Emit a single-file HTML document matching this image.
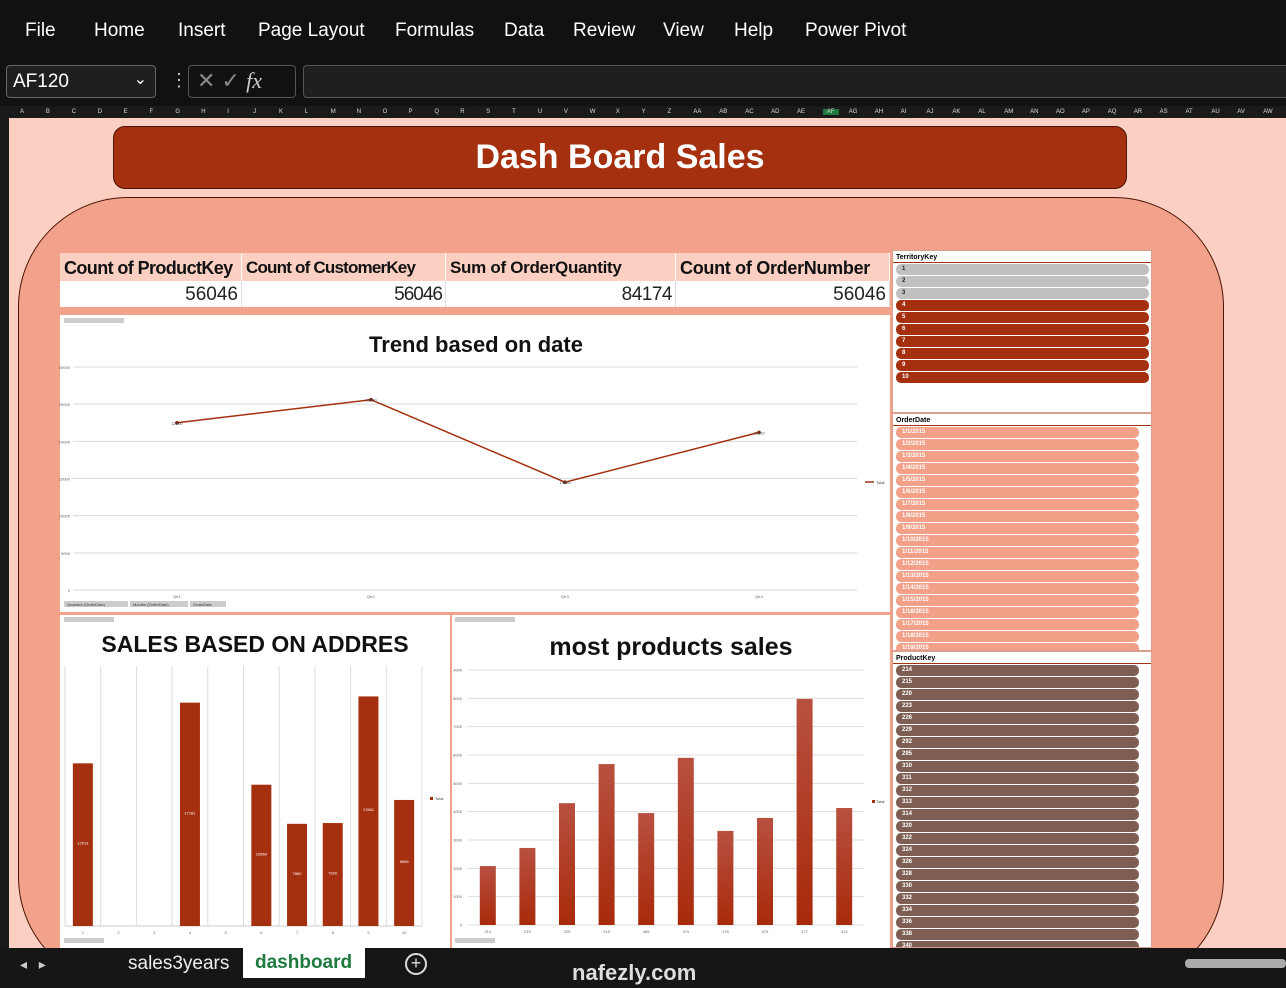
<!DOCTYPE html>
<html><head><meta charset="utf-8">
<style>
*{margin:0;padding:0;box-sizing:border-box}
body{width:1286px;height:988px;overflow:hidden;background:#fbd0c3;font-family:"Liberation Sans",sans-serif;position:relative}
.abs{position:absolute}
#menu{left:0;top:0;width:1286px;height:62px;background:#111}
#menu span{position:absolute;top:20px;color:#fff;font-size:19px}
#fbar{left:0;top:62px;width:1286px;height:44px;background:#111}
#colhdr{left:0;top:106px;width:1286px;height:12px;background:#1a1a1a;color:#ddd;font-size:6px}
#rowhdr{left:0;top:118px;width:9px;height:830px;background:#1a1a1a}
.kh{position:absolute;top:253px;height:28px;background:#fbd0c3;font-weight:bold;font-size:18px;color:#111;padding:5px 0 0 4px;border-right:1px solid #fff;white-space:nowrap;overflow:hidden}
.kv{position:absolute;top:281px;height:26px;background:#fff;font-size:19px;color:#222;text-align:right;padding:3px 3px 0 0;border-right:1px solid #ddd}
.sl{position:absolute;background:#fff;border:1px solid #d9a090}
.sl .t{font-size:7px;font-weight:bold;padding:3px 0 0 3px;height:12px;color:#000;border-bottom:1px solid #a5300f;margin-bottom:1px}
.it{height:11px;margin:0 0 1px 3px;border-radius:5px;font-size:6px;font-weight:bold;padding:2px 0 0 6px}
</style></head><body>
<div id="menu" class="abs">
<span style="left:25px">File</span>
<span style="left:94px">Home</span>
<span style="left:178px">Insert</span>
<span style="left:258px">Page Layout</span>
<span style="left:395px">Formulas</span>
<span style="left:504px">Data</span>
<span style="left:573px">Review</span>
<span style="left:663px">View</span>
<span style="left:734px">Help</span>
<span style="left:805px">Power Pivot</span>
</div>
<div id="fbar" class="abs">
<div class="abs" style="left:6px;top:3px;width:150px;height:33px;border:1px solid #666;border-radius:4px;background:#1f1f1f;color:#fff;font-size:19px;padding:5px 0 0 6px">AF120<span style="position:absolute;right:8px;top:3px;font-size:16px">⌄</span></div>
<div class="abs" style="left:170px;top:8px;color:#ccc;font-size:18px">⋮</div>
<div class="abs" style="left:188px;top:3px;width:108px;height:33px;border:1px solid #555;border-radius:4px;color:#888;font-size:22px;padding:2px 0 0 8px">✕ ✓ <i style="font-family:'Liberation Serif',serif;color:#ccc">fx</i></div>
<div class="abs" style="left:303px;top:3px;width:990px;height:33px;border:1px solid #555;border-radius:4px;background:#1f1f1f"></div>
</div>
<div id="colhdr" class="abs"></div>
<div id="rowhdr" class="abs"></div>

<div class="abs" style="left:113px;top:126px;width:1014px;height:63px;background:#a5300f;border:1px solid #4a1505;border-radius:12px;color:#fff;font-size:34px;font-weight:bold;text-align:center;padding-top:11px">Dash Board Sales</div>
<div class="abs" style="left:18px;top:197px;width:1206px;height:790px;background:#f2a28a;border:1px solid #4a1505;border-radius:110px"></div>

<div class="kh" style="left:60px;width:182px;letter-spacing:-0.6px">Count of ProductKey</div>
<div class="kh" style="left:242px;width:204px;font-size:17px;letter-spacing:-0.8px">Count of CustomerKey</div>
<div class="kh" style="left:446px;width:230px;font-size:17px;letter-spacing:-0.3px">Sum of OrderQuantity</div>
<div class="kh" style="left:676px;width:214px;letter-spacing:-0.3px">Count of OrderNumber</div>
<div class="kv" style="left:60px;width:182px">56046</div>
<div class="kv" style="left:242px;width:204px;letter-spacing:-1px">56046</div>
<div class="kv" style="left:446px;width:230px;letter-spacing:-0.5px">84174</div>
<div class="kv" style="left:676px;width:214px">56046</div>

<svg class="abs" style="left:0;top:0" width="1286" height="988" id="charts">
<defs><linearGradient id="bg" x1="0" y1="0" x2="0" y2="1"><stop offset="0" stop-color="#b85040"/><stop offset="1" stop-color="#a82a0a"/></linearGradient></defs>
<rect x="60" y="315" width="830" height="297" fill="#fff"/>
<rect x="60" y="615" width="390" height="333" fill="#fff"/>
<rect x="452" y="615" width="438" height="333" fill="#fff"/>
<text x="476" y="352" text-anchor="middle" font-size="22" font-weight="bold" fill="#111">Trend based on date</text>
<text x="255" y="652" text-anchor="middle" font-size="23" font-weight="bold" fill="#111">SALES BASED ON ADDRES</text>
<text x="671" y="655" text-anchor="middle" font-size="25" font-weight="bold" fill="#111">most products sales</text>
<rect x="64" y="318" width="60" height="5" fill="#ccc"/>
<rect x="64" y="617" width="50" height="5" fill="#ccc"/>
<rect x="455" y="617" width="60" height="5" fill="#ccc"/>
<g id="trend"></g><g id="addr"></g><g id="prod"></g>
</svg>

<div class="sl" style="left:892px;top:250px;width:260px;height:163px"><div class="t">TerritoryKey</div><div id="s1"></div></div>
<div class="sl" style="left:892px;top:413px;width:260px;height:238px;overflow:hidden"><div class="t">OrderDate</div><div id="s2"></div></div>
<div class="sl" style="left:892px;top:651px;width:260px;height:297px;overflow:hidden"><div class="t">ProductKey</div><div id="s3"></div></div>

<div class="abs" style="left:0;top:948px;width:1286px;height:40px;background:#161616">
<span class="abs" style="left:20px;top:8px;color:#ccc;font-size:14px">◂ &nbsp; ▸</span>
<span class="abs" style="left:128px;top:5px;color:#eee;font-size:19px">sales3years</span>
<span class="abs" style="left:243px;top:0;width:122px;height:30px;background:#fff;color:#1e7a3e;font-weight:bold;font-size:19px;padding:4px 0 0 12px">dashboard</span>
<span class="abs" style="left:405px;top:5px;width:22px;height:22px;border:2px solid #ddd;border-radius:50%;color:#ddd;font-size:18px;text-align:center;line-height:17px">+</span>
<span class="abs" style="left:572px;top:12px;color:#ddd;font-size:22px;font-weight:bold">nafezly.com</span>
<span class="abs" style="left:1185px;top:11px;width:101px;height:9px;background:#aaa;border-radius:4px"></span>
</div>

<script>
const NS="http://www.w3.org/2000/svg";
function mk(p,t,a,txt){const e=document.createElementNS(NS,t);for(const k in a)e.setAttribute(k,a[k]);if(txt!==undefined)e.textContent=txt;p.appendChild(e);return e;}
const ch=document.getElementById('colhdr');
const cols="A B C D E F G H I J K L M N O P Q R S T U V W X Y Z AA AB AC AD AE AF AG AH AI AJ AK AL AM AN AO AP AQ AR AS AT AU AV AW".split(" ");
cols.forEach((c,i)=>{const s=document.createElement('span');s.textContent=c;s.style.cssText='position:absolute;top:3px;left:'+(20+i*25.9)+'px';if(c==='AF'){s.style.background='#1e7a3e';s.style.padding='0 4px';}ch.appendChild(s);});

// Trend chart data
const quarters=["Qtr1","Qtr2","Qtr3","Qtr4"];
const trendVals=[22500,25600,14500,21200];
const trendTicks=[0,5000,10000,15000,20000,25000,30000];
// Address chart data
const territories=["1","2","3","4","5","6","7","8","9","10"];
const territoryVals=[12513,0,0,17181,0,10869,7860,7920,17661,9696];
// Products chart data
const products=["214","215","225","310","465","479","478","479","477","313"];
const productVals=[2080,2720,4300,5680,3950,5900,3320,3780,7980,4130];
const productTicks=[0,1000,2000,3000,4000,5000,6000,7000,8000,9000];

(function(){
 const g=document.getElementById('trend');
 const y0=590,y1=367,gx0=73,gx1=857,px0=80,px1=856,max=30000;
 const ys=v=>y0-(v/max)*(y0-y1);
 const xs=i=>px0+(px1-px0)*(i+0.5)/quarters.length;
 trendTicks.forEach(t=>{const l=mk(g,'line',{x1:gx0,x2:gx1,y1:ys(t),y2:ys(t),stroke:'#d9d9d9','stroke-width':1});
 
 
 const tx=mk(g,'text',{x:70,y:ys(t)+2,'font-size':4,'text-anchor':'end',fill:'#666'},t);
 
 });
 let d="";trendVals.forEach((v,i)=>{d+=(i?"L":"M")+xs(i)+","+ys(v);});
 const p=mk(g,'path',{d:d,fill:'none',stroke:'#a5300f','stroke-width':1.5});
 
 
 trendVals.forEach((v,i)=>{const c=mk(g,'circle',{cx:xs(i),cy:ys(v),r:1.8,fill:'#7a2a10'});
 
 
 const lb=mk(g,'text',{x:xs(i),y:ys(v)+2,'font-size':4,'text-anchor':'middle',fill:'#444'},v);
 
 
 const xl=mk(g,'text',{x:xs(i),y:598,'font-size':4,'text-anchor':'middle',fill:'#666'},quarters[i]);
 
 });
 const lg=mk(g,'line',{x1:865,x2:874,y1:482,y2:482,stroke:'#a5300f','stroke-width':1.5});
 
 
 mk(g,'text',{x:876,y:484,'font-size':4,fill:'#444'},'Total');
 ["Quarters (OrderDate)","Months (OrderDate)","OrderDate"].forEach((s,i)=>{const w=[64,58,36][i],x=[64,130,190][i];
 const r=mk(g,'rect',{x:x,y:601,width:w,height:6,fill:'#ccc'});
 
 
 mk(g,'text',{x:x+3,y:606,'font-size':4,fill:'#333'},s);});
})();

(function(){
 const g=document.getElementById('addr');
 const y0=926,x0=65,x1=422,max=20000,ph=260;
 const n=territories.length,bw=(x1-x0)/n;
 const ys=v=>y0-v/max*ph;
 for(let i=0;i<=n;i++){const l=mk(g,'line',{x1:x0+i*bw,x2:x0+i*bw,y1:666,y2:y0,stroke:'#ddd'});
 
 }
 mk(g,'line',{x1:x0,x2:x1,y1:y0,y2:y0,stroke:'#ccc'});
 territoryVals.forEach((v,i)=>{const cx=x0+bw*(i+0.5);
 if(v>0){const r=mk(g,'rect',{x:cx-10,y:ys(v),width:20,height:y0-ys(v),fill:'#a5300f'});
 
 
 const t=mk(g,'text',{x:cx,y:(ys(v)+y0)/2,'font-size':4,'text-anchor':'middle',fill:'#fff'},v);
 
 }
 const xl=mk(g,'text',{x:cx,y:934,'font-size':4,'text-anchor':'middle',fill:'#666'},territories[i]);
 
 });
 mk(g,'rect',{x:430,y:797,width:3,height:3,fill:'#a5300f'});
 mk(g,'text',{x:435,y:800,'font-size':4,fill:'#444'},'Total');
 const fb=mk(g,'rect',{x:64,y:938,width:40,height:5,fill:'#ccc'});
 
 
})();

(function(){
 const g=document.getElementById('prod');
 const y0=925,y1=670,x0=468,x1=864,max=9000;
 const ys=v=>y0-v/max*(y0-y1);
 const n=products.length,bw=(x1-x0)/n;
 productTicks.forEach(t=>{const l=mk(g,'line',{x1:x0,x2:x1,y1:ys(t),y2:ys(t),stroke:'#ddd'});
 
 
 const tx=mk(g,'text',{x:462,y:ys(t)+1.5,'font-size':4,'text-anchor':'end',fill:'#666'},t);
 
 });
 productVals.forEach((v,i)=>{const cx=x0+bw*(i+0.5);
 const r=mk(g,'rect',{x:cx-8,y:ys(v),width:16,height:y0-ys(v),fill:'url(#bg)'});
 
 
 const xl=mk(g,'text',{x:cx,y:933,'font-size':4,'text-anchor':'middle',fill:'#666'},products[i]);
 
 });
 mk(g,'rect',{x:872,y:800,width:3,height:3,fill:'#a5300f'});
 mk(g,'text',{x:876,y:803,'font-size':4,fill:'#444'},'Total');
 const fb=mk(g,'rect',{x:455,y:938,width:40,height:5,fill:'#ccc'});
 
 
})();

function slicer(id,items,styleFn,w){const c=document.getElementById(id);
 items.forEach((t,i)=>{const d=document.createElement('div');d.className='it';d.textContent=t;
 const s=styleFn(i);d.style.background=s[0];d.style.color=s[1];d.style.width=w+'px';
 
 
 c.appendChild(d);});}
slicer('s1',["1","2","3","4","5","6","7","8","9","10"],i=>i<3?['#c0c0c0','#222']:['#a5300f','#fff'],253);
const dates=[];for(let i=1;i<=19;i++)dates.push("1/"+i+"/2015");
slicer('s2',dates,i=>['#f2a088','#fff'],243);
slicer('s3',["214","215","220","223","226","229","292","295","310","311","312","313","314","320","322","324","326","328","330","332","334","336","338","340"],i=>['#7e5e52','#fff'],243);
</script>
</body></html>
